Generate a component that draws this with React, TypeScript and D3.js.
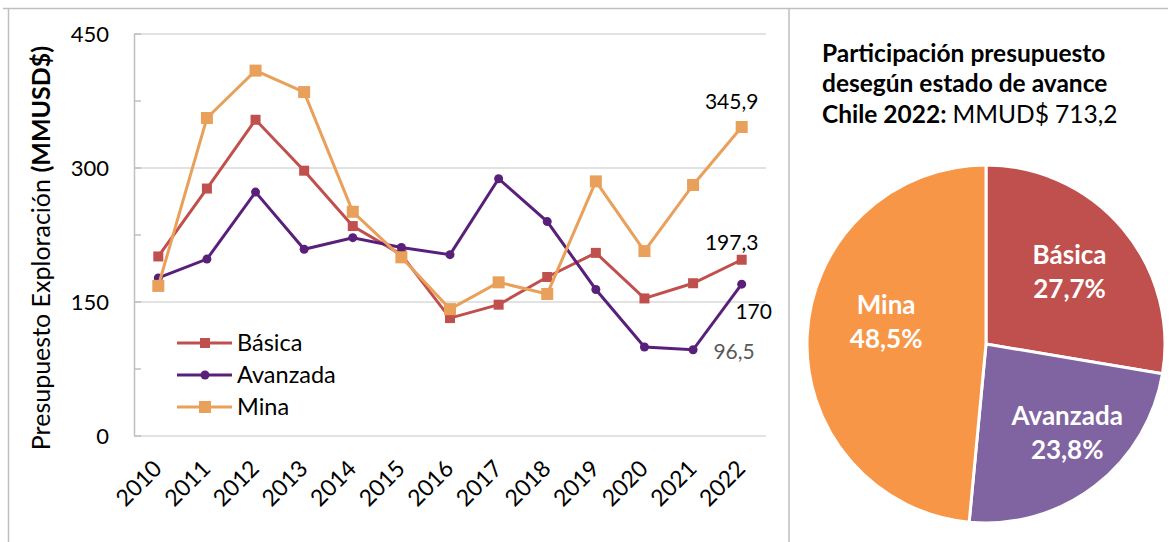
import React, { useEffect, useRef } from 'react';
import * as d3 from 'd3';

const years = ['2010', '2011', '2012', '2013', '2014', '2015', '2016', '2017', '2018', '2019', '2020', '2021', '2022'];
const basica = [201, 277, 354, 297, 235, 203, 132, 147, 178, 205, 154, 171, 197.3];
const avanzada = [177, 198, 273, 209, 222, 211, 203, 288, 240, 164, 99.6, 96.5, 170];
const mina = [168, 356, 409, 385, 251, 200, 142, 172, 159, 285, 207, 281, 345.9];
const yTicks = [0, 150, 300, 450];
const pieNames = ['Básica', 'Avanzada', 'Mina'];

const FONT = 'Lato, "Open Sans", sans-serif';

function App() {
  const ref = useRef<HTMLDivElement>(null);

  useEffect(() => {
    const root = d3.select(ref.current);
    root.selectAll('*').remove();

    const svg = root.append('svg')
      .attr('width', 1172)
      .attr('height', 542)
      .style('position', 'absolute')
      .style('left', '0px')
      .style('top', '0px')
      .style('background', '#fff')
      .style('font-family', FONT);

    // frame
    const frame = '#BFBFBF';
    svg.append('line').attr('x1', 3).attr('x2', 1168).attr('y1', 8.5).attr('y2', 8.5).attr('stroke', frame).attr('stroke-width', 1.5);
    svg.append('line').attr('x1', 8.5).attr('x2', 8.5).attr('y1', 8).attr('y2', 542).attr('stroke', frame).attr('stroke-width', 1.5);
    svg.append('line').attr('x1', 789).attr('x2', 789).attr('y1', 8).attr('y2', 542).attr('stroke', frame).attr('stroke-width', 1.5);

    // line chart
    const x = d3.scalePoint<string>().domain(years).range([134, 766]).padding(0.5);
    const y = d3.scaleLinear().domain([0, 450]).range([436, 34]);

    const grid = svg.append('g');
    grid.selectAll('line.grid')
      .data(yTicks)
      .enter()
      .append('line')
      .attr('x1', 134)
      .attr('x2', 766)
      .attr('y1', (d) => y(d))
      .attr('y2', (d) => y(d))
      .attr('stroke', '#D9D9D9')
      .attr('stroke-width', 1.5);

    grid.append('line')
      .attr('x1', 134.5).attr('x2', 134.5)
      .attr('y1', y(450)).attr('y2', y(0))
      .attr('stroke', '#BFBFBF').attr('stroke-width', 1.5);

    grid.selectAll('line.tick')
      .data(d3.range(0, 451, 75))
      .enter()
      .append('line')
      .attr('x1', 134).attr('x2', 141)
      .attr('y1', (d) => y(d)).attr('y2', (d) => y(d))
      .attr('stroke', '#BFBFBF').attr('stroke-width', 1.5);

    svg.append('g').selectAll('text')
      .data(yTicks)
      .enter()
      .append('text')
      .attr('x', 109)
      .attr('y', (d) => y(d))
      .attr('dy', '0.35em')
      .attr('text-anchor', 'end')
      .attr('font-size', 22)
      .attr('fill', '#000')
      .text((d) => d);

    svg.append('g').selectAll('text')
      .data(years)
      .enter()
      .append('text')
      .attr('transform', (d) => `translate(${(x(d) as number) + 5},${470}) rotate(-45)`)
      .attr('text-anchor', 'end')
      .attr('font-size', 23)
      .attr('fill', '#000')
      .text((d) => d);

    const yTitle = svg.append('text')
      .attr('transform', 'translate(50,248) rotate(-90)')
      .attr('text-anchor', 'middle')
      .attr('font-size', 25)
      .attr('fill', '#000');
    yTitle.append('tspan').text('Presupuesto Exploración ');
    yTitle.append('tspan').attr('font-weight', 'bold').text('(MMUSD$)');

    const series = [
      { name: 'Básica', values: basica, color: '#C0504D', shape: 'square', size: 10 },
      { name: 'Avanzada', values: avanzada, color: '#59207A', shape: 'circle', size: 9 },
      { name: 'Mina', values: mina, color: '#E8A05A', shape: 'square', size: 12 },
    ];

    const line = d3.line<number>()
      .x((d, i) => x(years[i]) as number)
      .y((d) => y(d));

    const drawMarker = (g: any, shape: string, size: number, color: string, cx: number, cy: number) => {
      if (shape === 'circle') {
        g.append('circle').attr('cx', cx).attr('cy', cy).attr('r', size / 2).attr('fill', color);
      } else {
        g.append('rect').attr('x', cx - size / 2).attr('y', cy - size / 2)
          .attr('width', size).attr('height', size).attr('fill', color);
      }
    };

    series.forEach((s) => {
      const g = svg.append('g');
      g.append('path')
        .attr('d', line(s.values))
        .attr('fill', 'none')
        .attr('stroke', s.color)
        .attr('stroke-width', 3);
      s.values.forEach((v, i) => drawMarker(g, s.shape, s.size, s.color, x(years[i]) as number, y(v)));
    });

    // data labels
    const last = years.length - 1;
    const fmt = (v: number) => String(v).replace('.', ',');
    const labels = [
      { v: mina[last], year: years[last], dx: -10, dy: -25, color: '#000' },
      { v: basica[last], year: years[last], dx: -10, dy: -17, color: '#000' },
      { v: avanzada[last], year: years[last], dx: 12, dy: 28, color: '#000' },
      { v: avanzada[last - 1], year: years[last - 1], dx: 41, dy: 2, color: '#595959' },
    ];
    svg.append('g').selectAll('text')
      .data(labels)
      .enter()
      .append('text')
      .attr('x', (d) => (x(d.year) as number) + d.dx)
      .attr('y', (d) => y(d.v) + d.dy)
      .attr('dy', '0.35em')
      .attr('text-anchor', 'middle')
      .attr('font-size', 21)
      .attr('fill', (d) => d.color)
      .text((d) => fmt(d.v));

    // legend
    const legend = svg.append('g');
    series.forEach((s, i) => {
      const ly = 343 + i * 32;
      legend.append('line').attr('x1', 177).attr('x2', 232).attr('y1', ly).attr('y2', ly)
        .attr('stroke', s.color).attr('stroke-width', 3);
      drawMarker(legend, s.shape, s.size, s.color, 205, ly);
      legend.append('text').attr('x', 237).attr('y', ly).attr('dy', '0.35em')
        .attr('font-size', 23.5).attr('fill', '#000').text(s.name);
    });

    // pie title
    const title = svg.append('g').attr('font-size', 24.5).attr('fill', '#000');
    title.append('text').attr('x', 822).attr('y', 53).attr('dy', '0.35em').attr('font-weight', 'bold')
      .text('Participación presupuesto');
    title.append('text').attr('x', 822).attr('y', 83).attr('dy', '0.35em').attr('font-weight', 'bold')
      .text('desegún estado de avance');
    const t3 = title.append('text').attr('x', 822).attr('y', 114).attr('dy', '0.35em');
    t3.append('tspan').attr('font-weight', 'bold').text('Chile 2022: ');
    const total = d3.sum([basica[last], avanzada[last], mina[last]]);
    t3.append('tspan').text('MMUD$ ' + fmt(Math.round(total * 10) / 10));

    // pie
    const pieValues = [basica[last], avanzada[last], mina[last]];
    const pieColors = ['#C0504D', '#8064A2', '#F79646'];
    const labelNudge = [[-2, 0], [13, 0], [12, -17]];
    const pie = d3.pie<number>().sort(null)(pieValues);
    const arc = d3.arc<d3.PieArcDatum<number>>().innerRadius(0).outerRadius(179);
    const labelArc = d3.arc<d3.PieArcDatum<number>>().innerRadius(112).outerRadius(112);

    const pg = svg.append('g').attr('transform', 'translate(986,344)');
    pg.selectAll('path')
      .data(pie)
      .enter()
      .append('path')
      .attr('d', arc)
      .attr('fill', (d, i) => pieColors[i])
      .attr('stroke', '#fff')
      .attr('stroke-width', 3);

    const pl = pg.selectAll('g.lbl')
      .data(pie)
      .enter()
      .append('g')
      .attr('transform', (d, i) => {
        const [cx, cy] = labelArc.centroid(d);
        return `translate(${cx + labelNudge[i][0]},${cy + labelNudge[i][1]})`;
      })
      .attr('fill', '#fff')
      .attr('font-weight', 'bold')
      .attr('font-size', 26)
      .attr('text-anchor', 'middle');
    pl.append('text').attr('y', -17).attr('dy', '0.35em').text((d, i) => pieNames[i]);
    pl.append('text').attr('y', 17).attr('dy', '0.35em')
      .text((d) => (d.value / total * 100).toFixed(1).replace('.', ',') + '%');
  }, []);

  return <div ref={ref}></div>;
}

export default App;
